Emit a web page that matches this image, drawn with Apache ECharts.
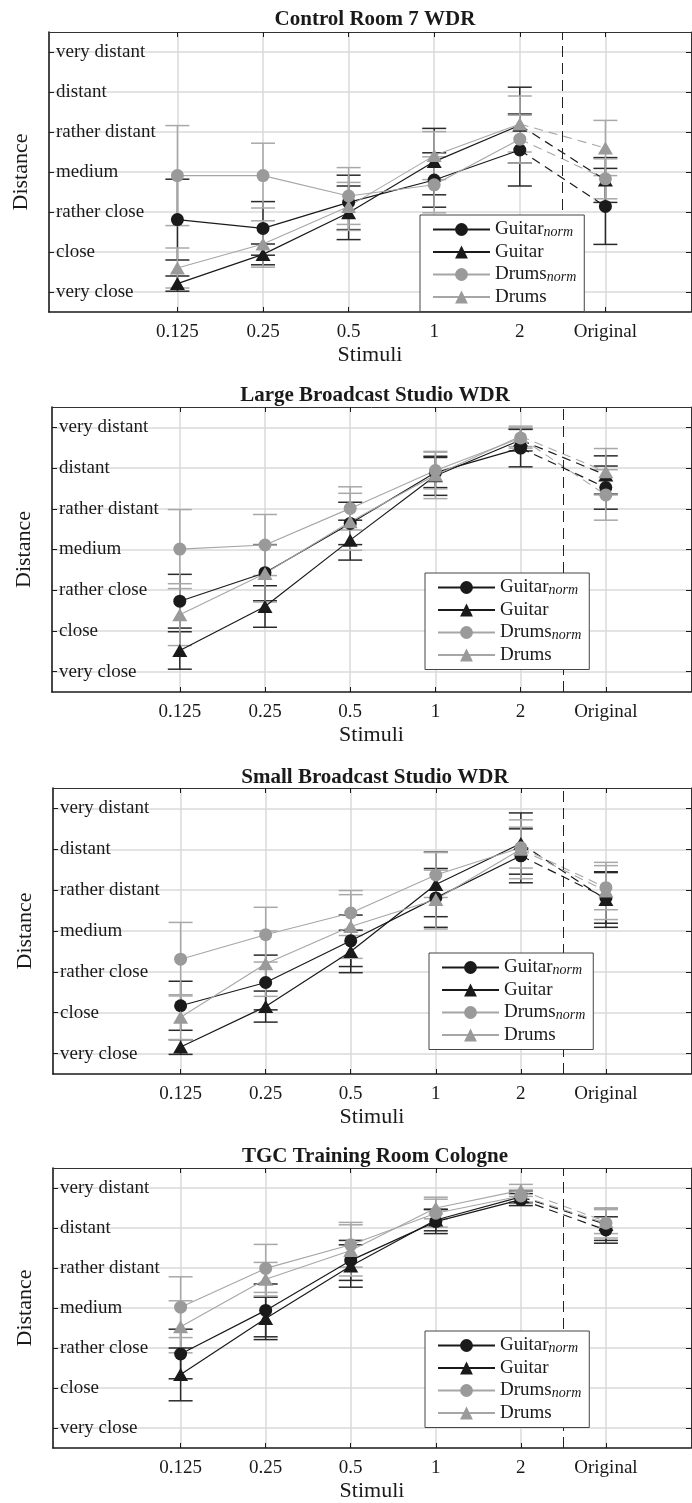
<!DOCTYPE html>
<html>
<head>
<meta charset="utf-8">
<title>Distance ratings</title>
<script src="https://cdn.jsdelivr.net/npm/echarts@6/dist/echarts.min.js"></script>
<style>
  html, body { margin: 0; padding: 0; background: #fff; }
  #main { width: 692px; height: 1503px; }
</style>
</head>
<body>
<div id="main"></div>
<script>
// categories
const stimuli = ['0.125', '0.25', '0.5', '1', '2', 'Original'];
const levels = ['very close', 'close', 'rather close', 'medium', 'rather distant', 'distant', 'very distant'];
const rooms = ['Control Room 7 WDR', 'Large Broadcast Studio WDR', 'Small Broadcast Studio WDR', 'TGC Training Room Cologne'];
const seriesNames = ['Guitar_norm', 'Guitar', 'Drums_norm', 'Drums'];

// Control Room 7 WDR (mean, +/- interval)
const crGuitarNorm = [2.81, 2.59, 3.24, 3.80, 4.55, 3.14];
const crGuitarNormCi = [1.01, 0.67, 0.68, 0.68, 0.90, 0.95];
const crGuitar = [1.21, 1.94, 2.98, 4.26, 5.17, 3.80];
const crGuitarCi = [0.19, 0.26, 0.67, 0.83, 0.95, 0.56];
const crDrumsNorm = [3.91, 3.91, 3.40, 3.68, 4.82, 3.83];
const crDrumsNormCi = [1.25, 0.81, 0.71, 0.70, 0.60, 0.50];
const crDrums = [1.60, 2.20, 3.14, 4.41, 5.20, 4.60];
const crDrumsCi = [0.50, 0.58, 0.60, 0.60, 0.70, 0.69];

// Large Broadcast Studio WDR
const lbGuitarNorm = [2.73, 3.43, 4.64, 5.89, 6.49, 5.52];
const lbGuitarNormCi = [0.66, 0.69, 0.52, 0.37, 0.46, 0.53];
const lbGuitar = [1.52, 2.60, 4.23, 5.81, 6.69, 5.83];
const lbGuitarCi = [0.46, 0.51, 0.49, 0.48, 0.27, 0.47];
const lbDrumsNorm = [4.01, 4.11, 5.01, 5.94, 6.74, 5.34];
const lbDrumsNormCi = [0.97, 0.75, 0.53, 0.45, 0.25, 0.62];
const lbDrums = [2.40, 3.41, 4.68, 5.83, 6.78, 5.91];
const lbDrumsCi = [0.76, 0.70, 0.70, 0.58, 0.25, 0.57];

// Small Broadcast Studio WDR
const sbGuitarNorm = [2.17, 2.74, 3.76, 4.81, 5.84, 4.81];
const sbGuitarNormCi = [0.60, 0.67, 0.63, 0.72, 0.66, 0.62];
const sbGuitar = [1.16, 2.15, 3.50, 5.14, 6.14, 4.77];
const sbGuitarCi = [0.18, 0.38, 0.52, 0.79, 0.75, 0.68];
const sbDrumsNorm = [3.31, 3.91, 4.44, 5.37, 6.04, 5.06];
const sbDrumsNormCi = [0.90, 0.67, 0.55, 0.55, 0.50, 0.54];
const sbDrums = [1.89, 3.20, 4.11, 4.77, 6.00, 4.98];
const sbDrumsCi = [0.55, 0.80, 0.78, 0.72, 0.72, 0.70];

// TGC Training Room Cologne
const tgGuitarNorm = [2.85, 3.94, 5.19, 6.16, 6.71, 5.95];
const tgGuitarNormCi = [0.62, 0.66, 0.50, 0.30, 0.15, 0.33];
const tgGuitar = [2.34, 3.74, 5.05, 6.20, 6.78, 6.09];
const tgGuitarCi = [0.66, 0.53, 0.53, 0.27, 0.15, 0.40];
const tgDrumsNorm = [4.02, 4.99, 5.58, 6.37, 6.80, 6.12];
const tgDrumsNormCi = [0.76, 0.60, 0.56, 0.35, 0.15, 0.37];
const tgDrums = [3.53, 4.72, 5.44, 6.50, 6.94, 6.16];
const tgDrumsCi = [0.65, 0.42, 0.64, 0.27, 0.15, 0.30];

const panels = [
  { means: [crGuitarNorm, crGuitar, crDrumsNorm, crDrums], cis: [crGuitarNormCi, crGuitarCi, crDrumsNormCi, crDrumsCi] },
  { means: [lbGuitarNorm, lbGuitar, lbDrumsNorm, lbDrums], cis: [lbGuitarNormCi, lbGuitarCi, lbDrumsNormCi, lbDrumsCi] },
  { means: [sbGuitarNorm, sbGuitar, sbDrumsNorm, sbDrums], cis: [sbGuitarNormCi, sbGuitarCi, sbDrumsNormCi, sbDrumsCi] },
  { means: [tgGuitarNorm, tgGuitar, tgDrumsNorm, tgDrums], cis: [tgGuitarNormCi, tgGuitarCi, tgDrumsNormCi, tgDrumsCi] }
];

// layout
const FONT = 'Liberation Serif';
const INK = '#1a1a1a';
const gridTops = [32, 407, 788, 1168];
const gridHeights = [280, 285, 286, 284];
const gridLefts = [49, 52, 53, 53];
const titleTops = [4, 380, 762, 1141];
const legendPos = [[420, 215], [425, 573], [429, 953], [425, 1331]];
const xTicks = [1, 2, 3, 4, 5, 6];
const yTicks = [1, 2, 3, 4, 5, 6, 7];

const styles = [
  { fill: INK, line: INK, err: '#2a2a2a', symbol: 'circle', size: 13, width: 1.2 },
  { fill: INK, line: INK, err: '#2a2a2a', symbol: 'triangle', size: [15, 13], width: 1.2 },
  { fill: '#9a9a9a', line: '#a6a6a6', err: '#a8a8a8', symbol: 'circle', size: 13, width: 1.1 },
  { fill: '#9a9a9a', line: '#a6a6a6', err: '#a8a8a8', symbol: 'triangle', size: [15, 13], width: 1.1 }
];

function errorBar(color) {
  return function (params, api) {
    const x = api.value(0);
    const lo = api.coord([x, api.value(1)]);
    const hi = api.coord([x, api.value(2)]);
    const w = 12;
    const style = { stroke: color, lineWidth: 1.5, fill: null };
    return {
      type: 'group',
      children: [
        { type: 'line', shape: { x1: lo[0], y1: lo[1], x2: hi[0], y2: hi[1] }, style: style },
        { type: 'line', shape: { x1: lo[0] - w, y1: lo[1], x2: lo[0] + w, y2: lo[1] }, style: style },
        { type: 'line', shape: { x1: hi[0] - w, y1: hi[1], x2: hi[0] + w, y2: hi[1] }, style: style }
      ]
    };
  };
}

const grid = [], xAxis = [], yAxis = [], title = [], legend = [], series = [];

panels.forEach(function (panel, p) {
  grid.push({ left: gridLefts[p], right: 1, top: gridTops[p], height: gridHeights[p] });

  title.push({
    text: rooms[p], left: 370, top: titleTops[p], textAlign: 'center',
    textStyle: { fontFamily: FONT, fontSize: 21, fontWeight: 'bold', color: INK }
  });

  xAxis.push({
    gridIndex: p, type: 'value', min: -0.5, max: 7, position: 'bottom',
    name: 'Stimuli', nameLocation: 'middle', nameGap: 32,
    nameTextStyle: { fontFamily: FONT, fontSize: 22, color: INK },
    axisLine: { onZero: false, lineStyle: { color: INK, width: 1.6 } },
    axisTick: { inside: true, length: 5, customValues: xTicks, lineStyle: { color: INK } },
    axisLabel: {
      customValues: xTicks, margin: 11, fontFamily: FONT, fontSize: 19, color: INK,
      formatter: function (v) { return stimuli[v - 1]; }
    },
    splitLine: { show: true, lineStyle: { color: '#dadada', width: 1.5 } }
  }, {
    gridIndex: p, type: 'value', min: -0.5, max: 7, position: 'top',
    axisLine: { onZero: false, lineStyle: { color: '#333', width: 1 } },
    axisTick: { inside: true, length: 5, customValues: xTicks, lineStyle: { color: INK } },
    axisLabel: { show: false },
    splitLine: { show: false }
  });

  yAxis.push({
    gridIndex: p, type: 'value', min: 0.5, max: 7.5, position: 'left',
    name: 'Distance', nameLocation: 'middle', nameGap: 17, nameRotate: 90,
    nameTextStyle: { fontFamily: FONT, fontSize: 22, color: INK },
    axisLine: { onZero: false, lineStyle: { color: INK, width: 1.6 } },
    axisTick: { inside: true, length: 5, customValues: yTicks, lineStyle: { color: INK } },
    axisLabel: {
      inside: true, customValues: yTicks, margin: 7, fontFamily: FONT, fontSize: 19, color: INK,
      formatter: function (v) { return levels[v - 1]; }
    },
    splitLine: { show: true, lineStyle: { color: '#dadada', width: 1.5 } }
  }, {
    gridIndex: p, type: 'value', min: 0.5, max: 7.5, position: 'right',
    axisLine: { onZero: false, lineStyle: { color: '#333', width: 1 } },
    axisTick: { inside: true, length: 5, customValues: yTicks, lineStyle: { color: INK } },
    axisLabel: { show: false },
    splitLine: { show: false }
  });

  legend.push({
    data: seriesNames, orient: 'vertical', left: legendPos[p][0], top: legendPos[p][1],
    padding: [5, 8, 5, 12], itemWidth: 57, itemHeight: 16, itemGap: 3.5,
    backgroundColor: '#fff', borderColor: '#444', borderWidth: 1, borderRadius: 0,
    selectedMode: false, z: 10,
    textStyle: {
      fontFamily: FONT, fontSize: 19, lineHeight: 19, color: INK,
      rich: { s: { fontFamily: FONT, fontSize: 14, lineHeight: 19, fontStyle: 'italic', color: INK, padding: [5, 0, 0, 0] } }
    },
    formatter: function (name) { return name.replace('_norm', '{s|norm}'); }
  });

  const xi = 2 * p, yi = 2 * p;
  panel.means.forEach(function (m, s) {
    const st = styles[s];
    const ci = panel.cis[s];
    series.push({
      type: 'custom', name: seriesNames[s] + ' interval', xAxisIndex: xi, yAxisIndex: yi,
      renderItem: errorBar(st.err), encode: { x: 0, y: [1, 2] }, silent: true,
      data: m.map(function (v, i) { return [i + 1, v - ci[i], v + ci[i]]; })
    });
    const main = {
      type: 'line', name: seriesNames[s], xAxisIndex: xi, yAxisIndex: yi,
      symbol: st.symbol, symbolSize: st.size, showAllSymbol: true,
      itemStyle: { color: st.fill },
      lineStyle: { color: st.line, width: st.width },
      data: m.slice(0, 5).map(function (v, i) { return [i + 1, v]; })
    };
    if (s === 0) {
      main.markLine = {
        silent: true, symbol: ['none', 'none'], label: { show: false },
        lineStyle: { color: '#222', width: 1, type: [11, 6] },
        data: [{ xAxis: 5.5 }]
      };
    }
    series.push(main);
    series.push({
      type: 'line', name: seriesNames[s] + ' original', xAxisIndex: xi, yAxisIndex: yi,
      symbol: st.symbol, symbolSize: st.size,
      itemStyle: { color: st.fill },
      lineStyle: { color: st.line, width: st.width, type: [9, 6] },
      data: [{ value: [5, m[4]], symbol: 'none' }, [6, m[5]]]
    });
  });
});

const chart = echarts.init(document.getElementById('main'), null, { renderer: 'canvas' });
chart.setOption({
  backgroundColor: '#fff',
  animation: false,
  title: title,
  grid: grid,
  xAxis: xAxis,
  yAxis: yAxis,
  legend: legend,
  series: series
});
</script>
</body>
</html>
